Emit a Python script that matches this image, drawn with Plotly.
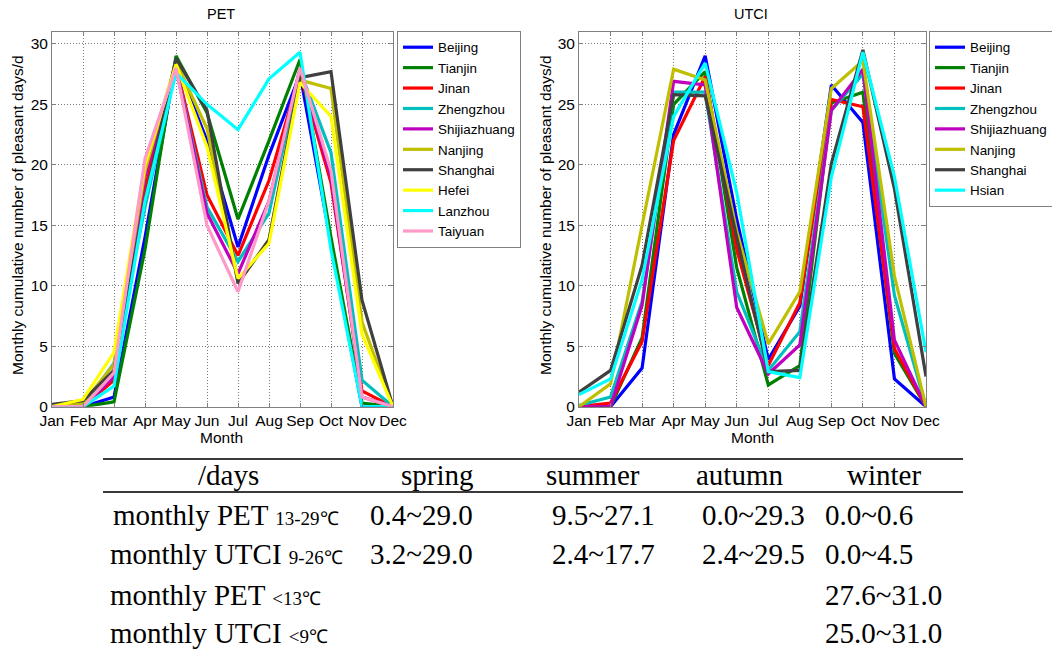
import plotly.graph_objects as go

W, H = 1052, 653

# ---------------- data ----------------
months = ["Jan", "Feb", "Mar", "Apr", "May", "Jun",
          "Jul", "Aug", "Sep", "Oct", "Nov", "Dec"]
month_idx = list(range(1, 13))

pet_cities = ["Beijing", "Tianjin", "Jinan", "Zhengzhou", "Shijiazhuang",
              "Nanjing", "Shanghai", "Hefei", "Lanzhou", "Taiyuan"]
pet_beijing      = [0.0, 0.0, 0.8, 14.0, 28.5, 22.0, 13.2, 20.8, 27.5, 13.5, 0.0, 0.0]
pet_tianjin      = [0.0, 0.0, 0.4, 13.0, 29.0, 24.3, 15.5, 22.0, 28.7, 14.0, 0.3, 0.0]
pet_jinan        = [0.0, 0.0, 2.2, 18.0, 28.2, 17.5, 12.5, 18.7, 27.5, 18.5, 1.3, 0.0]
pet_zhengzhou    = [0.0, 0.1, 3.6, 16.5, 28.0, 16.5, 12.0, 16.0, 27.8, 21.0, 2.2, 0.0]
pet_shijiazhuang = [0.0, 0.0, 2.5, 19.0, 28.0, 16.0, 11.0, 17.0, 28.0, 19.0, 0.8, 0.0]
pet_nanjing      = [0.0, 0.3, 3.5, 19.5, 28.5, 23.0, 10.2, 13.8, 27.0, 26.3, 7.0, 0.0]
pet_shanghai     = [0.2, 0.5, 3.0, 17.0, 28.8, 24.5, 10.2, 13.8, 27.2, 27.7, 8.8, 0.0]
pet_hefei        = [0.0, 0.6, 4.5, 20.0, 28.3, 21.5, 10.6, 13.5, 26.8, 24.0, 6.0, 0.0]
pet_lanzhou      = [0.0, 0.0, 1.7, 17.0, 27.6, 25.0, 22.9, 27.1, 29.3, 13.0, 0.0, 0.0]
pet_taiyuan      = [0.0, 0.0, 2.8, 20.5, 28.0, 15.0, 9.5, 17.0, 28.0, 19.5, 0.8, 0.0]

utci_cities = ["Beijing", "Tianjin", "Jinan", "Zhengzhou", "Shijiazhuang",
               "Nanjing", "Shanghai", "Hsian"]
utci_beijing      = [0.0, 0.0, 3.2, 22.5, 29.0, 15.5, 3.9, 8.3, 26.6, 23.5, 2.3, 0.0]
utci_tianjin      = [0.0, 0.0, 5.7, 25.0, 27.7, 11.5, 1.8, 3.4, 25.1, 26.0, 4.4, 0.0]
utci_jinan        = [0.0, 0.3, 5.4, 22.0, 27.3, 13.0, 3.4, 8.6, 25.4, 24.8, 4.8, 0.0]
utci_zhengzhou    = [0.1, 0.8, 8.7, 26.0, 26.0, 9.5, 3.0, 6.2, 24.5, 27.5, 9.2, 0.0]
utci_shijiazhuang = [0.0, 0.0, 8.4, 26.9, 26.6, 8.2, 2.7, 5.1, 24.5, 27.9, 5.5, 0.0]
utci_nanjing      = [0.0, 1.9, 15.0, 27.9, 27.0, 14.5, 5.2, 9.5, 26.3, 28.6, 10.8, 0.0]
utci_shanghai     = [1.2, 3.0, 11.7, 25.8, 25.7, 14.0, 2.9, 3.0, 20.1, 29.5, 18.0, 2.5]
utci_hsian        = [1.0, 2.3, 10.5, 24.0, 28.4, 17.7, 2.9, 2.4, 19.0, 29.3, 19.0, 4.5]

pet_series = [pet_beijing, pet_tianjin, pet_jinan, pet_zhengzhou, pet_shijiazhuang,
              pet_nanjing, pet_shanghai, pet_hefei, pet_lanzhou, pet_taiyuan]
utci_series = [utci_beijing, utci_tianjin, utci_jinan, utci_zhengzhou,
               utci_shijiazhuang, utci_nanjing, utci_shanghai, utci_hsian]

city_colors = {
    "Beijing": "#0000ff", "Tianjin": "#008000", "Jinan": "#ff0000",
    "Zhengzhou": "#00bfbf", "Shijiazhuang": "#bf00bf", "Nanjing": "#bfbf00",
    "Shanghai": "#404040", "Hefei": "#ffff00", "Lanzhou": "#00ffff",
    "Taiyuan": "#ff99c8", "Hsian": "#00ffff",
}

table_header = ["/days", "spring", "summer", "autumn", "winter"]
table_rows = [
    ("monthly PET", "13-29\u2103", ["0.4~29.0", "9.5~27.1", "0.0~29.3", "0.0~0.6"]),
    ("monthly UTCI", "9-26\u2103", ["3.2~29.0", "2.4~17.7", "2.4~29.5", "0.0~4.5"]),
    ("monthly PET", "<13\u2103", ["", "", "", "27.6~31.0"]),
    ("monthly UTCI", "<9\u2103", ["", "", "", "25.0~31.0"]),
]

# ---------------- helpers ----------------
def px_x(p):
    return p / W


def px_y(p):
    return 1 - p / H


SANS = "Liberation Sans, Arial, sans-serif"
SERIF = "Liberation Serif, Times New Roman, serif"


def label(text, cx, cy, size, family=SANS, angle=0, xanchor="center"):
    return dict(text=text, x=px_x(cx), y=px_y(cy), xref="paper", yref="paper",
                xanchor=xanchor, yanchor="middle", textangle=angle, showarrow=False,
                font=dict(family=family, size=size, color="#000"))


fig = go.Figure()

for name, vals in zip(pet_cities, pet_series):
    fig.add_trace(go.Scatter(
        x=month_idx, y=vals, mode="lines", name=name,
        line=dict(color=city_colors[name], width=3.2),
        xaxis="x", yaxis="y", legend="legend"))

for name, vals in zip(utci_cities, utci_series):
    fig.add_trace(go.Scatter(
        x=month_idx, y=vals, mode="lines", name=name,
        line=dict(color=city_colors[name], width=3.2),
        xaxis="x2", yaxis="y2", legend="legend2"))

y_dom = [px_y(406.7), px_y(31.7)]

axis_common = dict(
    showline=True, mirror="ticks", linecolor="#808080", linewidth=1,
    ticks="inside", ticklen=4, tickcolor="#808080",
    showgrid=True, gridcolor="#7a7a7a", gridwidth=1, griddash="1px,2px",
    zeroline=False, tickfont=dict(family=SANS, size=15.5, color="#000"),
)

legend_common = dict(xanchor="left", yanchor="top", bgcolor="white",
                     bordercolor="#808080", borderwidth=1,
                     font=dict(family=SANS, size=13.4, color="#000"))

fig.update_layout(
    width=W, height=H,
    margin=dict(l=0, r=0, t=0, b=0, autoexpand=False),
    paper_bgcolor="white", plot_bgcolor="white",
    xaxis=dict(domain=[px_x(52), px_x(393)], range=[1, 12],
               tickvals=month_idx, ticktext=months, anchor="y", **axis_common),
    yaxis=dict(domain=y_dom, range=[0, 31], tickvals=[0, 5, 10, 15, 20, 25, 30],
               anchor="x", **axis_common),
    xaxis2=dict(domain=[px_x(579), px_x(926)], range=[1, 12],
                tickvals=month_idx, ticktext=months, anchor="y2", **axis_common),
    yaxis2=dict(domain=y_dom, range=[0, 31], tickvals=[0, 5, 10, 15, 20, 25, 30],
                anchor="x2", **axis_common),
    legend=dict(x=px_x(397), y=px_y(31), **legend_common),
    legend2=dict(x=px_x(929), y=px_y(31), **legend_common),
    showlegend=True,
)

annotations = []
shapes = []

# panel titles and axis titles
annotations.append(label("PET", 221, 14, 14.5))
annotations.append(label("UTCI", 751, 14, 14.5))
for cx in (17.5, 545.5):
    annotations.append(label("Monthly cumulative number of pleasant days/d",
                             cx, 215.5, 15.5, angle=-90))
for cx in (221, 752):
    annotations.append(label("Month", cx, 437, 15.5))

# summary table
for yy in (459, 492):
    shapes.append(dict(type="line", xref="paper", yref="paper",
                       x0=px_x(103), x1=px_x(963), y0=px_y(yy), y1=px_y(yy),
                       line=dict(color="#3a3a3a", width=2)))

header_cx = [228, 437, 593, 739, 884]
for txt, cx in zip(table_header, header_cx):
    annotations.append(label(txt, cx, 475, 29, family=SERIF))

row_cy = [515, 554, 595, 633]
row_lx = [111, 108, 108, 108]
value_lx = [368, 550, 700, 823]
for (name, sub, vals), cy, lx in zip(table_rows, row_cy, row_lx):
    sub_txt = sub.replace("<", "&lt;")
    annotations.append(label(f"{name} <span style='font-size:19px'>{sub_txt}</span>",
                             lx, cy, 29, family=SERIF, xanchor="left"))
    for v, vx in zip(vals, value_lx):
        if v:
            annotations.append(label(v, vx, cy, 29, family=SERIF, xanchor="left"))

fig.update_layout(annotations=annotations, shapes=shapes)

fig.write_html("out.html")
